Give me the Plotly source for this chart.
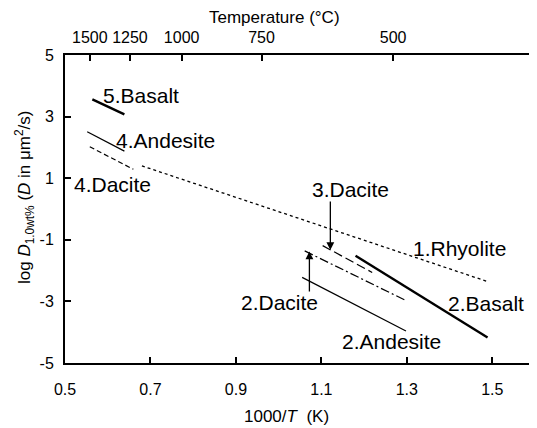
import plotly.graph_objects as go

# ---- data ----
rhyolite_x = [0.68, 1.49]
rhyolite_y = [1.40, -2.36]

dacite4_x = [0.558, 0.660]
dacite4_y = [2.02, 1.29]

andesite4_x = [0.552, 0.639]
andesite4_y = [2.51, 1.88]

basalt5_x = [0.564, 0.639]
basalt5_y = [3.56, 3.07]

basalt2_x = [1.180, 1.489]
basalt2_y = [-1.52, -4.17]

dacite3_x = [1.103, 1.219]
dacite3_y = [-1.19, -2.06]

dacite2_x = [1.061, 1.296]
dacite2_y = [-1.36, -2.96]

andesite2_x = [1.055, 1.298]
andesite2_y = [-2.22, -3.96]

bottom_ticks = [0.5, 0.7, 0.9, 1.1, 1.3, 1.5]
bottom_labels = ["0.5", "0.7", "0.9", "1.1", "1.3", "1.5"]
y_ticks = [5, 3, 1, -1, -3, -5]
y_labels = ["5", "3", "1", "-1", "-3", "-5"]
top_tick_pos = [0.558, 0.652, 0.773, 0.960, 1.268]
top_tick_labels = ["1500", "1250", "1000", "750", "500"]

# label text, x (left), y (centre)
labels = [
    ("5.Basalt", 0.587, 3.67),
    ("4.Andesite", 0.617, 2.22),
    ("4.Dacite", 0.519, 0.80),
    ("3.Dacite", 1.076, 0.62),
    ("1.Rhyolite", 1.312, -1.28),
    ("2.Basalt", 1.395, -3.08),
    ("2.Andesite", 1.145, -4.31),
    ("2.Dacite", 0.909, -3.05),
]
# arrows: x, y_start, y_tip
arrows = [
    (1.121, 0.29, -1.33),
    (1.072, -2.73, -1.38),
]

FONT = "Liberation Sans, Arial, sans-serif"

fig = go.Figure()

def add_line(x, y, width, dash):
    fig.add_trace(go.Scatter(x=x, y=y, mode="lines",
                             line=dict(color="black", width=width, dash=dash),
                             showlegend=False, hoverinfo="skip"))

add_line(rhyolite_x, rhyolite_y, 1.3, "dot")
add_line(dacite4_x, dacite4_y, 1.2, "5px,3px")
add_line(andesite4_x, andesite4_y, 1.2, "solid")
add_line(basalt5_x, basalt5_y, 2.4, "solid")
add_line(basalt2_x, basalt2_y, 2.4, "solid")
add_line(dacite3_x, dacite3_y, 1.2, "9px,4px")
add_line(dacite2_x, dacite2_y, 1.2, "9px,3px,2px,3px")
add_line(andesite2_x, andesite2_y, 1.2, "solid")

# invisible trace on the top axis so it is drawn
fig.add_trace(go.Scatter(x=[0.5, 1.6], y=[0, 0], xaxis="x2", mode="markers",
                         marker=dict(opacity=0), showlegend=False, hoverinfo="skip"))

for text, x, y in labels:
    fig.add_annotation(x=x, y=y, text=text, showarrow=False, xanchor="left",
                       yanchor="middle", font=dict(family=FONT, size=21, color="black"),
                       borderpad=0)

for x, y0, y1 in arrows:
    fig.add_annotation(x=x, y=y1, ax=x, ay=y0, axref="x", ayref="y",
                       xref="x", yref="y", text="", showarrow=True,
                       arrowhead=2, arrowsize=1.2, arrowwidth=1.3, arrowcolor="black")

# axis titles (placed as in the reference, not centred on the plot area)
fig.add_annotation(text="Temperature (°C)", xref="paper", yref="paper",
                   x=0.445, y=1.122, showarrow=False, xanchor="center", yanchor="middle",
                   font=dict(family=FONT, size=17, color="black"))
fig.add_annotation(text="1000/<i>T</i>  (K)", xref="paper", yref="paper",
                   x=0.472, y=-0.175, showarrow=False, xanchor="center", yanchor="middle",
                   font=dict(family=FONT, size=17, color="black"))
fig.add_annotation(text="log <i>D</i><sub>1.0wt%</sub> (<i>D</i> in μm<sup>2</sup>/s)",
                   xref="paper", yref="paper", x=-0.085, y=0.539, textangle=-90,
                   showarrow=False, xanchor="center", yanchor="middle",
                   font=dict(family=FONT, size=17, color="black"))

# the page body adds an 8px margin, so the figure is 8px smaller than the window
fig.update_layout(
    width=529, height=420,
    margin=dict(l=57, r=2, t=47, b=65),
    paper_bgcolor="white", plot_bgcolor="white",
    font=dict(family=FONT, size=16, color="black"),
    showlegend=False,
    xaxis=dict(
        range=[0.5, 1.6], tickvals=bottom_ticks, ticktext=bottom_labels,
        automargin=False,
        showgrid=False, zeroline=False, showline=True, linecolor="black", linewidth=2,
        ticks="inside", ticklen=6, tickwidth=1.5, tickcolor="black",
        ticklabelstandoff=11,
        tickfont=dict(size=16),
    ),
    xaxis2=dict(
        overlaying="x", side="top", range=[0.5, 1.6],
        tickvals=top_tick_pos, ticktext=top_tick_labels,
        automargin=False,
        showgrid=False, zeroline=False, showline=True, linecolor="black", linewidth=2,
        ticks="inside", ticklen=6, tickwidth=1.5, tickcolor="black",
        ticklabelstandoff=4,
        tickfont=dict(size=16),
    ),
    yaxis=dict(
        range=[-5, 5], tickvals=y_ticks, ticktext=y_labels,
        automargin=False,
        showgrid=False, zeroline=False, showline=True, mirror=True,
        linecolor="black", linewidth=2,
        ticks="inside", ticklen=6, tickwidth=1.5, tickcolor="black",
        ticklabelstandoff=6,
        tickfont=dict(size=16),
    ),
)

fig.write_html("out.html")
